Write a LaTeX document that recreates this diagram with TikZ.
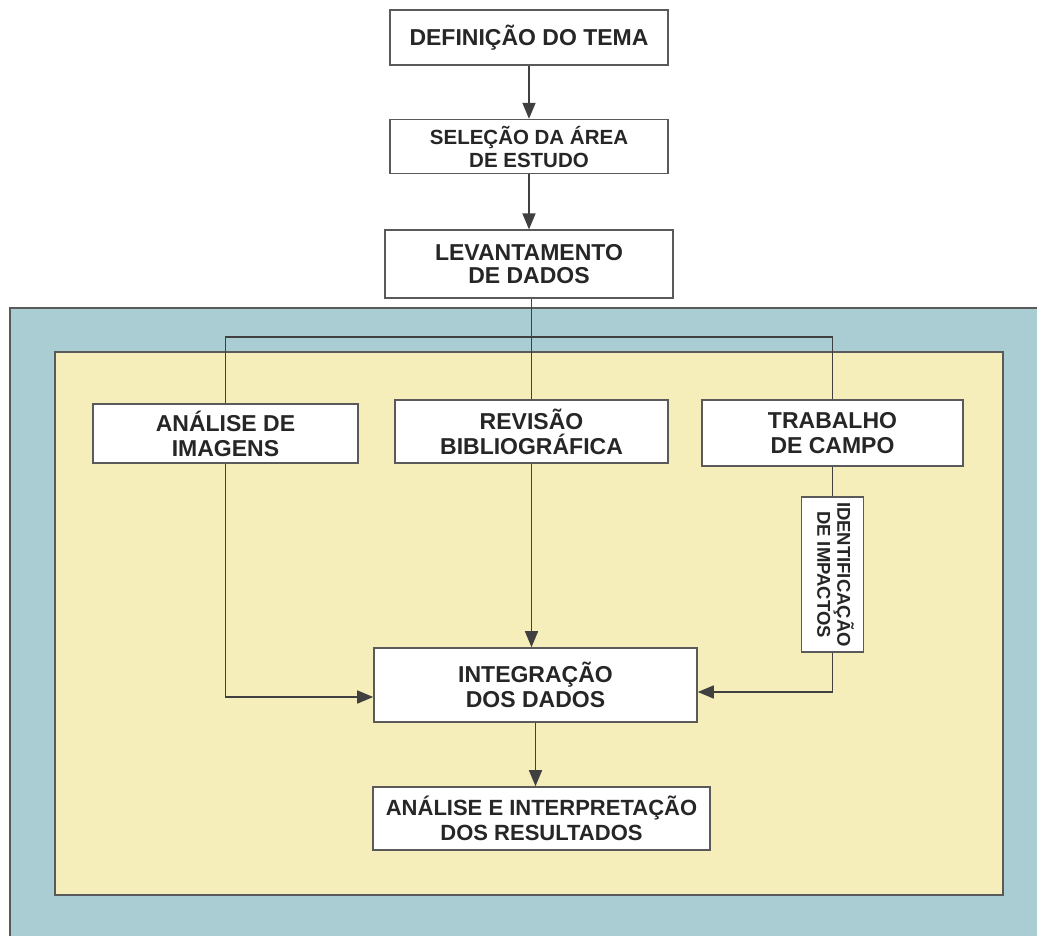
\documentclass[tikz,border=0pt]{standalone}
\usepackage{fontspec}
\setmainfont{Liberation Sans}
\usetikzlibrary{arrows.meta, positioning}
\definecolor{fundoazul}{RGB}{170,205,212}
\definecolor{fundoamarelo}{RGB}{245,237,186}
\definecolor{borda}{RGB}{90,90,90}

\tikzset{
    caixa/.style={draw=borda, line width=1.6pt, fill=white, align=center, inner sep=0pt,
        text=black!85, font=\fontsize{23}{25}\selectfont\bfseries},
    seta/.style={-{Triangle[length=16pt,width=13pt]}, line width=1.6pt, draw=black!75},
    linha/.style={line width=1.6pt, draw=black!75},
}

\begin{document}
\begin{tikzpicture}[x=1pt, y=-1pt]
    \clip (0,0) rectangle (1037,936);
    \fill[white] (0,0) rectangle (1037,936);
    % molduras
    \draw[borda, line width=1.6pt, fill=fundoazul] (10,308) rectangle (1045,945);
    \draw[borda, line width=1.6pt, fill=fundoamarelo] (55,352) rectangle (1003,895);

    \node[caixa, minimum width=278pt, minimum height=55pt] (tema) at (529,37.5) {DEFINIÇÃO DO TEMA};
    \node[caixa, minimum width=278pt, minimum height=54pt, font=\fontsize{20.5}{23}\selectfont\bfseries] (selecao) [below=53pt of tema] {SELEÇÃO DA ÁREA\\DE ESTUDO};
    \node[caixa, minimum width=288pt, minimum height=68pt, font=\fontsize{23}{23}\selectfont\bfseries] (levantamento) [below=55pt of selecao] {LEVANTAMENTO\\DE DADOS};

    \node[caixa, minimum width=265pt, minimum height=59pt] (imagens) at (225.5,433.5) {ANÁLISE DE\\IMAGENS};
    \node[caixa, minimum width=273pt, minimum height=63pt] (revisao) at (531.5,431.5) {REVISÃO\\BIBLIOGRÁFICA};
    \node[caixa, minimum width=261pt, minimum height=66pt] (campo) at (832.5,433) {TRABALHO\\DE CAMPO};
    \node[caixa, minimum width=62pt, minimum height=155pt, font=\fontsize{18.5}{20}\selectfont\bfseries] (impactos) at (832.5,574.5) {\rotatebox{-90}{\begin{tabular}{@{}c@{}}IDENTIFICAÇÃO\\DE IMPACTOS\end{tabular}}};

    \node[caixa, minimum width=323pt, minimum height=74pt] (integracao) at (535.5,685) {INTEGRAÇÃO\\DOS DADOS};
    \node[caixa, minimum width=337pt, minimum height=63pt, font=\fontsize{22}{25}\selectfont\bfseries] (resultados) at (541.5,818.5) {ANÁLISE E INTERPRETAÇÃO\\DOS RESULTADOS};

    \coordinate (topo) at (0,337);
    \draw[seta] (tema) -- (selecao);
    \draw[seta] (selecao) -- (levantamento);
    \draw[linha] (levantamento.south -| revisao.north) -- (revisao.north);
    \draw[linha] (imagens.north) -- (imagens.north |- topo) -- (campo.north |- topo) -- (campo.north);
    \draw[seta] (imagens.south) |- ([yshift=-12pt]integracao.west);
    \draw[seta] (revisao.south) -- (revisao.south |- integracao.north);
    \draw[linha] (campo.south) -- (impactos.north);
    \draw[seta] (impactos.south) |- ([yshift=-7pt]integracao.east);
    \draw[seta] (integracao.south) -- (integracao.south |- resultados.north);
\end{tikzpicture}
\end{document}
